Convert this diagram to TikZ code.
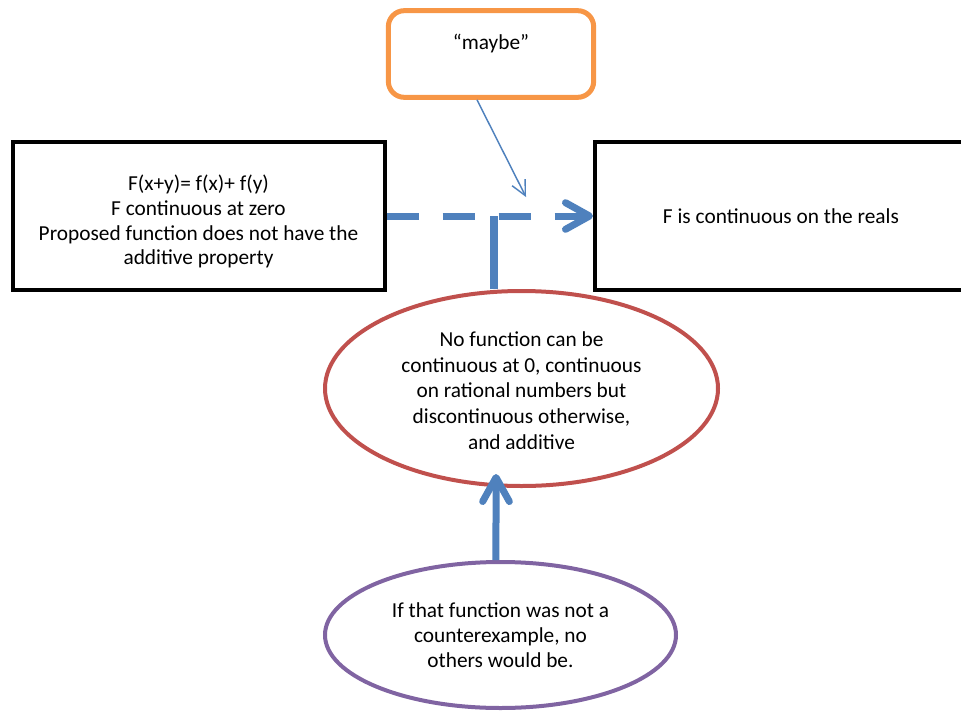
\documentclass[tikz,border=0pt]{standalone}
\usepackage{fontspec}
\setmainfont{Carlito}
\usetikzlibrary{arrows.meta,shapes.geometric}
\definecolor{arrowblue}{RGB}{79,129,189}
\definecolor{maybeorange}{RGB}{247,150,70}
\definecolor{claimred}{RGB}{192,80,77}
\definecolor{notepurple}{RGB}{128,100,162}

\begin{document}
\begin{tikzpicture}[x=0.75pt,y=0.75pt,
  box/.style={draw=black,line width=3pt,minimum width=279pt,minimum height=111pt,align=center},
  maybebox/.style={draw=maybeorange,line width=3.75pt,rounded corners=12pt,minimum width=154pt,minimum height=65pt,align=center},
  ring/.style={ellipse,draw=#1,line width=3pt,align=center},
  fat/.style={arrowblue,line width=5.25pt},
  fathead/.style={-{Straight Barb[length=18pt,width=20pt,line cap=round,line join=round]}},
  thin/.style={arrowblue,line width=1.1pt,-{Straight Barb[length=11pt,width=11pt]}}]
\tikzstyle{every node}+=[inner sep=0pt,font=\fontsize{16}{18.6}\selectfont]
\clip (0,0) rectangle (961,-711);
\node[maybebox] (maybe) at (491,-54) {“maybe”\\\mbox{}};
\node[box] (facts) at (198.5,-216) {\rule{0pt}{20pt}F(x+y)= f(x)+ f(y)\\F continuous at zero\\Proposed function does not have the\\additive property};
\node[box] (goal) at (781,-216) {F is continuous on the reals};
\node[ring=claimred,minimum width=294.75pt,minimum height=146.25pt] (claim) at (521.5,-388.5) {};
\begin{scope}
\clip (300,-280) rectangle (740,-448);
\node[align=center,font=\fontsize{16}{19.2}\selectfont,yshift=-1.5pt] (claimtext) at (claim) {No function can be\\continuous at 0, continuous\\on rational numbers but\\discontinuous otherwise,\\and additive};
\end{scope}
\node[ring=notepurple,minimum width=263.25pt,minimum height=109.5pt] (note) at (500.5,-635) {If that function was not a\\counterexample, no\\others would be.};
\coordinate (join) at (494,-216);
% connectors
\draw[fat,dash pattern=on 24pt off 18pt,fathead] (facts.east) -- (goal.west);
\draw[fat,line width=6pt] (claim.north -| join) -- (join);
\draw[thin] ([xshift=-10.5pt]maybe.south) -- (526,-197);
\draw[fat,fathead] ([xshift=-3.4pt]note.north) -- ([xshift=-19.1pt,yshift=10.5pt]claim.south);
\end{tikzpicture}
\end{document}
